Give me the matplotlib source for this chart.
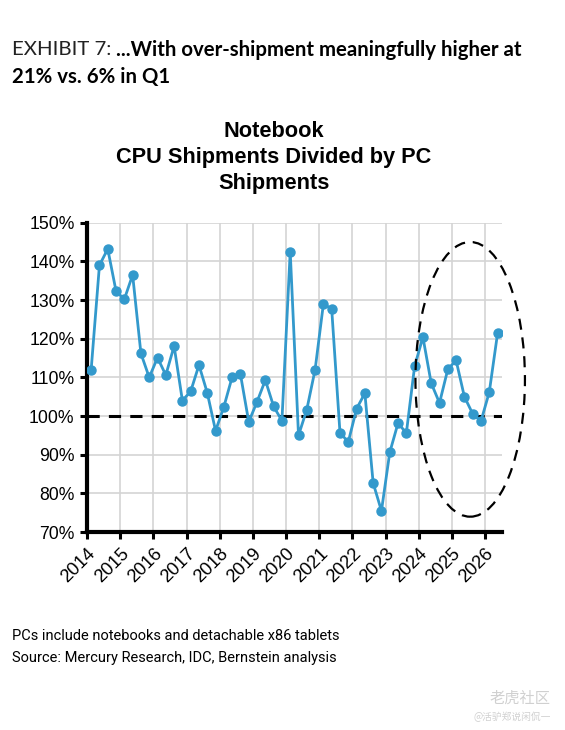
import numpy as np
import matplotlib
matplotlib.use('Agg')
import matplotlib.pyplot as plt
from matplotlib.patches import Ellipse

# quarterly notebook CPU shipments / PC shipments, 1Q14 .. 2Q26 (%)
ratio = [112.0, 139.0, 143.2, 132.3, 130.2, 136.5, 116.2, 110.0,
         115.1, 110.6, 118.1, 104.0, 106.4, 113.2, 106.0, 96.2,
         102.4, 110.1, 110.8, 98.5, 103.7, 109.3, 102.5, 98.8,
         142.5, 95.0, 101.7, 112.0, 129.0, 127.7, 95.7, 93.3,
         101.9, 105.9, 82.7, 75.5, 90.6, 98.2, 95.6, 112.9,
         120.4, 108.5, 103.4, 112.1, 114.4, 105.0, 100.6, 98.7,
         106.2, 121.4]
years = list(range(2014, 2027))
y_ticks = [70, 80, 90, 100, 110, 120, 130, 140, 150]
first_year = 2014

x = [first_year + (i + 0.5) / 4 for i in range(len(ratio))]

fig = plt.figure(figsize=(5.65, 7.3), dpi=100)
ax = fig.add_axes([0.154, 0.271, 0.734, 0.424])

ax.set_xlim(2014, 2026.5)
ax.set_ylim(70, 150)
ax.grid(True, color='#d4d4d4', linewidth=1.2)
ax.set_axisbelow(True)

ax.axhline(100, color='black', linestyle=(0, (4, 3)), linewidth=2.2, zorder=2)
ax.plot(x, ratio, color='#3399cc', linewidth=2, marker='o', markersize=6.5, zorder=3)

# highlight recent quarters
ell = Ellipse((2025.55, 109.5), 3.3, 71, fill=False, edgecolor='black',
              linestyle=(0, (5, 3.5)), linewidth=1.6, clip_on=False, zorder=4)
ax.add_patch(ell)

ax.set_xticks(years)
ax.set_xticklabels([str(y) for y in years], rotation=45, ha='right',
                   rotation_mode='anchor', fontsize=13.2, family='Liberation Sans')
ax.set_yticks(y_ticks)
ax.set_yticklabels([f"{v}%" for v in y_ticks], fontsize=12.7, family='Liberation Sans')
ax.tick_params(axis='both', length=5, width=2.2, color='black', pad=4)

for side in ['top', 'right']:
    ax.spines[side].set_visible(False)
for side in ['left', 'bottom']:
    ax.spines[side].set_linewidth(3)

fig.text(0.485, 0.784, "Notebook\nCPU Shipments Divided by PC\nShipments",
         ha='center', va='center', fontsize=15.7, fontweight='bold',
         family='Liberation Sans', linespacing=1.3)

# exhibit header
t1 = fig.text(0.021, 0.932, "EXHIBIT 7: ", fontsize=14.7, family='Lato',
              fontweight='normal', color='#222222', va='center')
fig.canvas.draw()
bb = t1.get_window_extent()
fig.text(bb.x1 / fig.bbox.width, 0.932, "...With over-shipment meaningfully higher at",
         fontsize=14.7, family='Lato', fontweight='bold', va='center')
fig.text(0.021, 0.895, "21% vs. 6% in Q1", fontsize=14.7, family='Lato',
         fontweight='bold', va='center')

fig.text(0.021, 0.129, "PCs include notebooks and detachable x86 tablets",
         fontsize=10.5, family='Roboto', va='center')
fig.text(0.021, 0.099, "Source: Mercury Research, IDC, Bernstein analysis",
         fontsize=10.5, family='Roboto', va='center')

fig.text(0.975, 0.043, "老虎社区", fontsize=11, color='#d0d0d0',
         family=['Noto Sans CJK SC', 'DejaVu Sans'], ha='right', va='center')
fig.text(0.975, 0.018, "@活驴郑说闲侃一", fontsize=7, color='#d0d0d0',
         family=['Noto Sans CJK SC', 'DejaVu Sans'], ha='right', va='center')

fig.savefig('out.png', dpi=100)
